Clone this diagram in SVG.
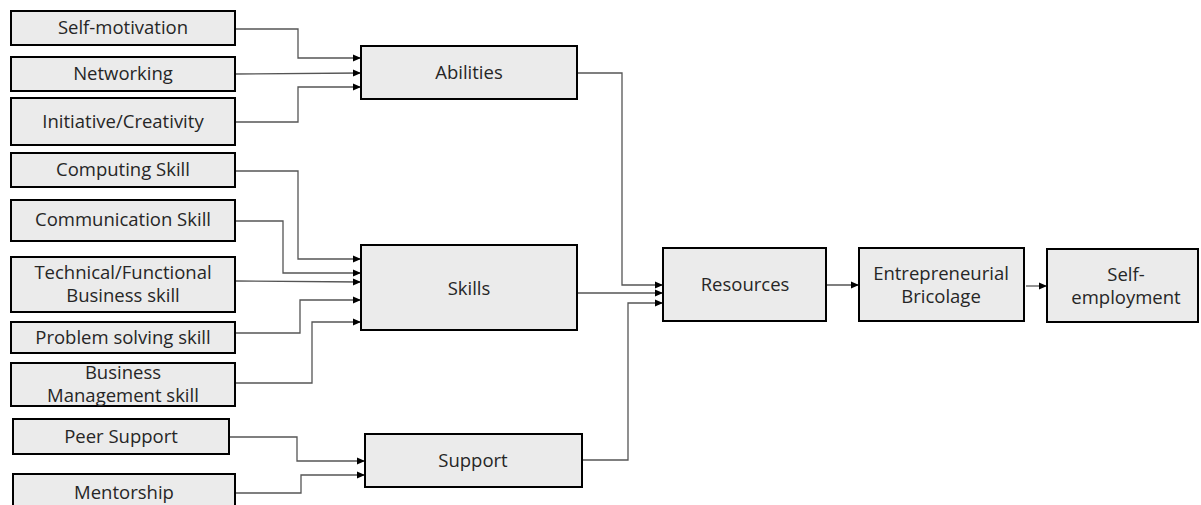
<svg xmlns="http://www.w3.org/2000/svg" width="1201" height="505" viewBox="0 0 1201 505">
<defs>
<marker id="ah" markerUnits="userSpaceOnUse" markerWidth="9" markerHeight="8" refX="8" refY="4" orient="auto">
<path d="M0,0.5 L8,4 L0,7.5 Z" fill="#000"/>
</marker>
<style>
.box{fill:#ebebeb;stroke:#000;stroke-width:2}
.t{font-family:"Open Sans","Liberation Sans",sans-serif;font-size:18.5px;fill:#262626;text-anchor:middle;dominant-baseline:central}
.c{fill:none;stroke:#555;stroke-width:1.3;marker-end:url(#ah)}
</style>
</defs>
<rect width="1201" height="505" fill="#fff"/>
<g id="connectors">
<path class="c" d="M235,29 H298 V58 H361"/>
<path class="c" d="M235,74 L361,73"/>
<path class="c" d="M235,122 H298 V87 H361"/>
<path class="c" d="M235,171 H298 V259 H361"/>
<path class="c" d="M235,221 H283 V273 H361"/>
<path class="c" d="M235,281 L361,282"/>
<path class="c" d="M235,333 H300 V300 H361"/>
<path class="c" d="M235,383 H312 V322 H361"/>
<path class="c" d="M229,437 H297 V461 H365"/>
<path class="c" d="M235,493 H301 V475 H365"/>
<path class="c" d="M577,73 H622 V285 H663"/>
<path class="c" d="M577,293 H663"/>
<path class="c" d="M582,460 H628 V303 H663"/>
<path class="c" d="M826,285 H859"/>
<path class="c" d="M1026,286 H1047"/>
</g>
<g id="n-selfmotivation"><rect class="box" x="11" y="11" width="224" height="34"/><text class="t" x="123" y="26.5">Self-motivation</text></g>
<g id="n-networking"><rect class="box" x="11" y="57" width="224" height="34"/><text class="t" x="123" y="72.5">Networking</text></g>
<g id="n-initiative"><rect class="box" x="11" y="98" width="224" height="47"/><text class="t" x="123" y="120.5">Initiative/Creativity</text></g>
<g id="n-computing"><rect class="box" x="11" y="153" width="224" height="34"/><text class="t" x="123" y="168.5">Computing Skill</text></g>
<g id="n-communication"><rect class="box" x="11" y="200" width="224" height="41"/><text class="t" x="123" y="218.5">Communication Skill</text></g>
<g id="n-technical"><rect class="box" x="11" y="257" width="224" height="55"/><text class="t" x="123" y="271.5">Technical/Functional</text><text class="t" x="123" y="294.5">Business skill</text></g>
<g id="n-problem"><rect class="box" x="11" y="322" width="224" height="31"/><text class="t" x="123" y="336.5">Problem solving skill</text></g>
<g id="n-business"><rect class="box" x="11" y="363" width="224" height="43"/><text class="t" x="123" y="371.5">Business</text><text class="t" x="123" y="394">Management skill</text></g>
<g id="n-peer"><rect class="box" x="13" y="419" width="216" height="35"/><text class="t" x="121" y="435.5">Peer Support</text></g>
<g id="n-mentorship"><rect class="box" x="13" y="474" width="222" height="40"/><text class="t" x="124" y="491.5">Mentorship</text></g>
<g id="n-abilities"><rect class="box" x="361" y="46" width="216" height="53"/><text class="t" x="469" y="71.5">Abilities</text></g>
<g id="n-skills"><rect class="box" x="361" y="245" width="216" height="85"/><text class="t" x="469" y="287.5">Skills</text></g>
<g id="n-support"><rect class="box" x="365" y="434" width="217" height="53"/><text class="t" x="473" y="459.5">Support</text></g>
<g id="n-resources"><rect class="box" x="663" y="248" width="163" height="73"/><text class="t" x="745" y="283.5">Resources</text></g>
<g id="n-bricolage"><rect class="box" x="859" y="248" width="165" height="73"/><text class="t" x="941" y="272.5">Entrepreneurial</text><text class="t" x="941" y="295.5">Bricolage</text></g>
<g id="n-selfemployment"><rect class="box" x="1047" y="249" width="151" height="73"/><text class="t" x="1126" y="273.5">Self-</text><text class="t" x="1126" y="296.5">employment</text></g>
</svg>
